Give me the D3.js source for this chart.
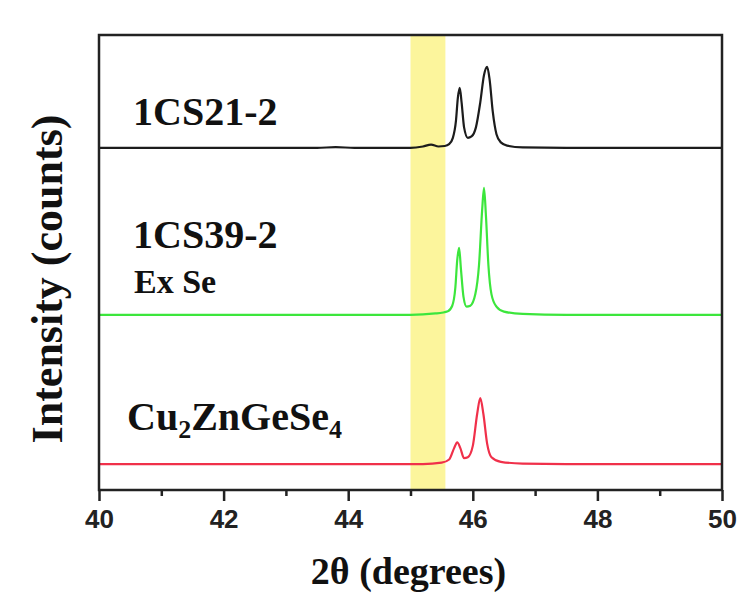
<!DOCTYPE html>
<html>
<head>
<meta charset="utf-8">
<script src="https://cdn.jsdelivr.net/npm/d3@7"></script>
<style>
  body { margin: 0; background: #fff; }
  svg { display: block; }
</style>
</head>
<body>
<script>
// 2theta (deg) and counts above each pattern's own baseline
const blackX = [40.0, 42.0, 43.5, 43.8, 44.1, 44.5, 45.0, 45.2, 45.33, 45.45, 45.55, 45.62, 45.68, 45.73, 45.76, 45.79, 45.82, 45.86, 45.92, 45.98, 46.05, 46.12, 46.18, 46.23, 46.27, 46.32, 46.38, 46.45, 46.55, 46.8, 47.5, 50.0]
const blackY = [0, 0, 0, 1.5, 0, 0, 0, 3, 7, 3, 4, 8, 22, 60, 110, 132, 100, 45, 22, 25, 45, 100, 160, 178, 150, 80, 30, 12, 5, 1, 0, 0]

const greenX = [40.0, 45.0, 45.4, 45.6, 45.67, 45.72, 45.75, 45.78, 45.81, 45.85, 45.9, 45.96, 46.04, 46.1, 46.15, 46.18, 46.21, 46.25, 46.3, 46.38, 46.5, 46.8, 47.5, 50.0]
const greenY = [0, 0, 3, 8, 20, 60, 120, 147, 100, 40, 18, 20, 45, 110, 230, 279, 220, 110, 45, 18, 7, 2, 0, 0]

const redX = [40.0, 45.2, 45.5, 45.62, 45.7, 45.75, 45.8, 45.86, 45.92, 46.0, 46.07, 46.12, 46.17, 46.23, 46.3, 46.45, 46.8, 47.5, 50.0]
const redY = [0, 0, 3, 10, 35, 48, 35, 13, 15, 40, 110, 145, 110, 45, 15, 5, 1, 0, 0]

const names = ["1CS21-2", "1CS39-2", "Cu2ZnGeSe4"]
const offsets = [752, 385, 57]
const colors = ["#1c1c1c", "#3ce63c", "#f0304a"]
const band = [45.0, 45.56]
const xTicks = [40, 42, 44, 46, 48, 50]
const xMinor = [41, 43, 45, 47, 49]

let w = 746, h = 595
let m = {left: 99, right: 24, top: 35, bottom: 105}

let svg = d3.select("body").append("svg")
    .attr("width", w)
    .attr("height", h)

let x = d3.scaleLinear().domain([40, 50]).range([m.left, w - m.right])
let y = d3.scaleLinear().domain([0, 1000]).range([h - m.bottom, m.top])

// highlighted region
svg.append("rect")
    .attr("x", x(band[0]))
    .attr("y", m.top)
    .attr("width", x(band[1]) - x(band[0]))
    .attr("height", y(0) - m.top)
    .attr("fill", "#fcf59c")

let series = [
    {xs: blackX, ys: blackY},
    {xs: greenX, ys: greenY},
    {xs: redX, ys: redY}
]

let line = d3.line()
    .x(d => x(d[0]))
    .y(d => y(d[1]))
    .curve(d3.curveMonotoneX)

series.forEach((s, i) => {
    let pts = s.xs.map((v, j) => [v, s.ys[j] + offsets[i]])
    svg.append("path")
        .datum(pts)
        .attr("fill", "none")
        .attr("stroke", colors[i])
        .attr("stroke-width", 2.2)
        .attr("stroke-linejoin", "round")
        .attr("d", line)
})

// frame
svg.append("rect")
    .attr("x", m.left)
    .attr("y", m.top)
    .attr("width", x(50) - m.left)
    .attr("height", y(0) - m.top)
    .attr("fill", "none")
    .attr("stroke", "#222")
    .attr("stroke-width", 2.5)

// x axis
let xAxis = svg.append("g")
    .attr("transform", `translate(0,${y(0)})`)
    .call(d3.axisBottom(x).tickValues(xTicks).tickSize(11).tickPadding(9).tickFormat(d3.format("d")))
xAxis.select(".domain").remove()
xAxis.selectAll("line").attr("stroke", "#222").attr("stroke-width", 2.5)
xAxis.selectAll("text")
    .attr("fill", "#222")
    .style("font", "bold 26px 'Liberation Sans', Arial, sans-serif")

let minor = svg.append("g")
    .attr("transform", `translate(0,${y(0)})`)
    .call(d3.axisBottom(x).tickValues(xMinor).tickSize(6).tickFormat(""))
minor.select(".domain").remove()
minor.selectAll("line").attr("stroke", "#222").attr("stroke-width", 2.5)

const serif = "'Liberation Serif', 'Times New Roman', serif"

// axis titles
svg.append("text")
    .attr("x", x(45) - 2)
    .attr("y", 584)
    .attr("text-anchor", "middle")
    .style("font", `bold 38px ${serif}`)
    .attr("fill", "#111")
    .text("2θ (degrees)")

svg.append("text")
    .attr("transform", "translate(62,279) rotate(-90)")
    .attr("text-anchor", "middle")
    .style("font", `bold 44px ${serif}`)
    .attr("fill", "#111")
    .text("Intensity (counts)")

// sample labels
svg.append("text")
    .attr("x", 133).attr("y", 125)
    .style("font", `bold 40px ${serif}`)
    .attr("fill", "#111")
    .text(names[0])

svg.append("text")
    .attr("x", 133).attr("y", 248)
    .style("font", `bold 40px ${serif}`)
    .attr("fill", "#111")
    .text(names[1])

svg.append("text")
    .attr("x", 134).attr("y", 293)
    .style("font", `bold 34px ${serif}`)
    .attr("fill", "#111")
    .text("Ex Se")

let cz = svg.append("text")
    .attr("x", 127).attr("y", 430)
    .style("font", `bold 40px ${serif}`)
    .attr("fill", "#111")
cz.append("tspan").text("Cu")
cz.append("tspan").attr("dy", 8).style("font-size", "26px").text("2")
cz.append("tspan").attr("dy", -8).text("ZnGeSe")
cz.append("tspan").attr("dy", 8).style("font-size", "26px").text("4")
</script>
</body>
</html>
